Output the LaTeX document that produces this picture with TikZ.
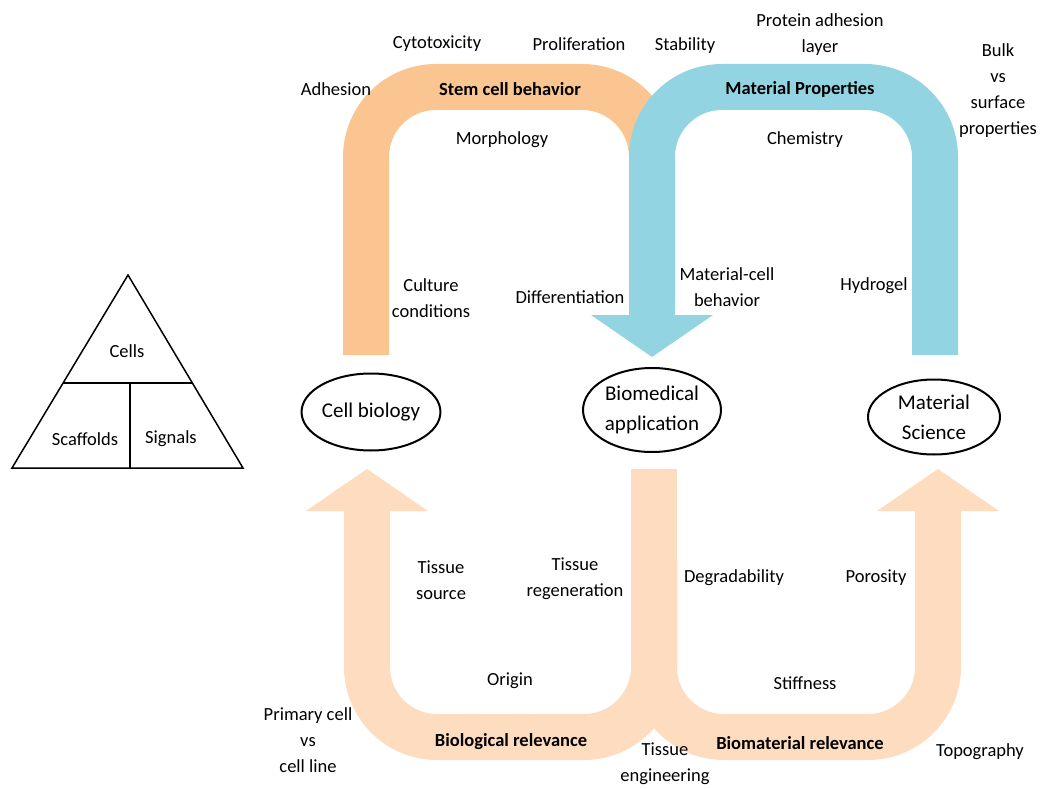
\documentclass[tikz,border=0pt]{standalone}
\usepackage{fontspec}
\setmainfont{Carlito}
\usetikzlibrary{arrows.meta,shapes.geometric}
\definecolor{stemorange}{HTML}{FAC591}
\definecolor{propblue}{HTML}{93D4E2}
\definecolor{relpeach}{HTML}{FDDCBF}
\tikzset{
  lbl/.style={align=center,inner sep=0pt,font=\fontsize{18.5}{26}\selectfont},
  lblbold/.style={lbl,font=\fontsize{18.5}{26}\selectfont\bfseries},
  field/.style={draw,line width=2pt,ellipse,inner sep=0pt,align=center,
               minimum width=132pt,minimum height=77pt,font=\fontsize{21}{30}\selectfont},
  band/.style={line width=46pt,rounded corners=70pt},
  bandtip/.style={-{Triangle[length=42pt,width=122pt,line width=0pt]}},
}

\begin{document}
\begin{tikzpicture}[x=1pt,y=-1pt]
  \useasboundingbox (0,0) rectangle (1042,789);

  % the three fields
  \node[field]                                   (cellbio) at (371,412) {Cell biology};
  \node[field,minimum width=138pt,minimum height=84pt] (biomed)  at (652,410) {Biomedical\\application};
  \node[field,minimum height=75pt]               (matsci)  at (934,417) {Material\\Science};

  % band end points
  \coordinate (sc0) at (366,355);
  \coordinate (sc1) at (652,87);
  \coordinate (sc2) at (652,300);
  \coordinate (mp0) at (935,355);
  \coordinate (mp1) at (652,87);
  \coordinate (mp2) at (652,357);
  \coordinate (br0) at (654,560);
  \coordinate (br1) at (367,737);
  \coordinate (br2) at (367,469);
  \coordinate (bm0) at (654,469);
  \coordinate (bm1) at (938,737);
  \coordinate (bm2) at (938,469);

  % bands
  \draw[band,stemorange] (sc0) |- (sc1) -- (sc2);
  \draw[band,propblue,bandtip] (mp0) |- (mp1) -- (mp2);
  \draw[band,relpeach,bandtip] (br0) |- (br1) -- (br2);
  \draw[band,relpeach,bandtip] (bm0) |- (bm1) -- (bm2);

  % band titles
  \node[lblbold] (stemcell)  at (510,89)  {Stem cell behavior};
  \node[lblbold] (matprop)   at (800,89)  {Material Properties};
  \node[lblbold] (biorel)    at (511,742) {Biological relevance};
  \node[lblbold] (biomatrel) at (800,743) {Biomaterial relevance};

  % upper labels
  \node[lbl] (adhesion)  at (336,89)  {Adhesion};
  \node[lbl] (cytotox)   at (437,44)  {Cytotoxicity};
  \node[lbl] (prolif)    at (579,44)  {Proliferation};
  \node[lbl] (stability) at (685,46)  {Stability};
  \node[lbl] (protein)   at (820,35)  {Protein adhesion\\layer};
  \node[lbl] (bulk)      at (998,91)  {Bulk\\vs\\surface\\properties};
  \node[lbl] (morph)     at (502,140) {Morphology};
  \node[lbl] (chem)      at (805,140) {Chemistry};
  \node[lbl] (culture)   at (431,298) {Culture\\conditions};
  \node[lbl] (diff)      at (570,297) {Differentiation};
  \node[lbl] (matcell)   at (727,287) {Material-cell\\behavior};
  \node[lbl] (hydrogel)  at (874,286) {Hydrogel};

  % lower labels
  \node[lbl] (tsource)   at (441,580) {Tissue\\source};
  \node[lbl] (tregen)    at (575,579) {Tissue\\regeneration};
  \node[lbl] (degrad)    at (734,578) {Degradability};
  \node[lbl] (porosity)  at (876,578) {Porosity};
  \node[lbl] (origin)    at (510,681) {Origin};
  \node[lbl] (stiff)     at (805,683) {Stiffness};
  \node[lbl] (primary)   at (308,740) {Primary cell\\vs\\cell line};
  \node[lbl] (tengin)    at (665,764) {Tissue\\engineering};
  \node[lbl] (topo)      at (980,752) {Topography};

  % tissue engineering triad
  \draw[line width=1.5pt,line join=miter] (12,468) -- (128,275) -- (243,468) -- cycle;
  \draw[line width=1.5pt] (63,383) -- (192,383);
  \draw[line width=1.5pt] (130,383) -- (130,468);
  \node[lbl] (cells)   at (127,351) {Cells};
  \node[lbl] (scaff)   at (85,439)  {Scaffolds};
  \node[lbl] (signals) at (171,439) {Signals};
\end{tikzpicture}
\end{document}
